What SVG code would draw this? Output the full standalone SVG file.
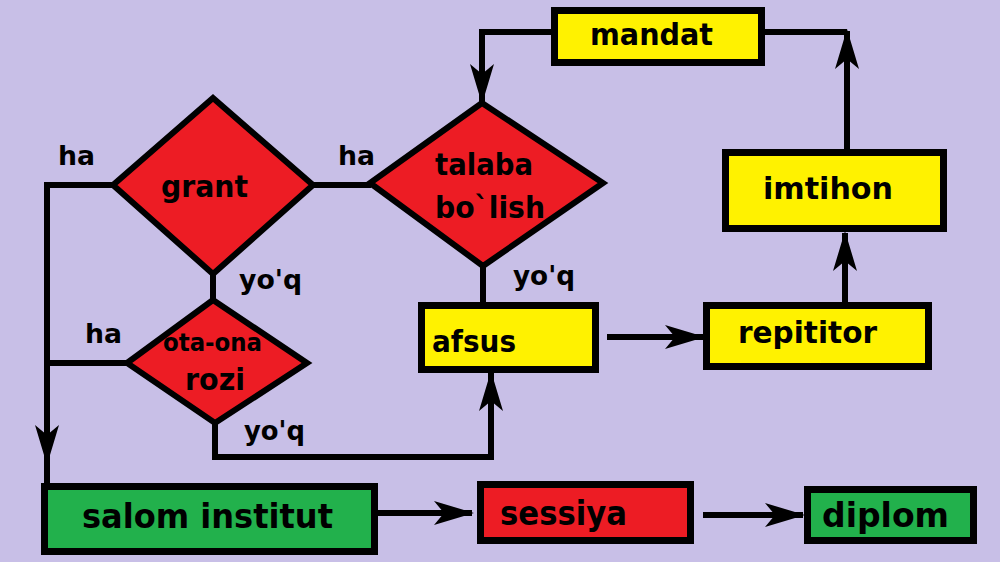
<svg xmlns="http://www.w3.org/2000/svg" width="1000" height="562" viewBox="0 0 1000 562">
<style>
.bg{fill:#c8bfe7}
.box{stroke:#000;stroke-width:7}
.dia{fill:#ed1c24;stroke:#000;stroke-width:6;stroke-linejoin:miter}
.yel{fill:#fff200}
.grn{fill:#22b14c}
.red{fill:#ed1c24}
.con{fill:none;stroke:#000;stroke-width:6;stroke-linejoin:miter}
text{font-family:"DejaVu Sans","Verdana",sans-serif;font-weight:bold;fill:#000}
.lbl{font-size:26px}
.n{font-size:30px}
</style>
<defs>
<marker id="ah" markerUnits="userSpaceOnUse" viewBox="0 0 40 26" markerWidth="40" markerHeight="26" refX="38" refY="13" orient="auto">
<path d="M0,1 L40,13 L0,25 L10,13 Z" fill="#000"/>
</marker>
</defs>
<rect class="bg" x="0" y="0" width="1000" height="562"/>

<g id="connectors">
<path class="con" d="M113,185 H47 V463" marker-end="url(#ah)"/>
<path class="con" d="M47,455 V484"/>
<path class="con" d="M127,363 H47"/>
<path class="con" d="M213,274 V302"/>
<path class="con" d="M313,185 H371"/>
<path class="con" d="M483,266 V303"/>
<path class="con" d="M215,422 V457 H491 V373" marker-end="url(#ah)"/>
<path class="con" d="M607,337 H703" marker-end="url(#ah)"/>
<path class="con" d="M845,303 V233" marker-end="url(#ah)"/>
<path class="con" d="M847,150 V31" marker-end="url(#ah)"/>
<path class="con" d="M765,32 H847"/>
<path class="con" d="M551,32 H482 V102" marker-end="url(#ah)"/>
<path class="con" d="M378,513 H472" marker-end="url(#ah)"/>
<path class="con" d="M703,515 H803" marker-end="url(#ah)"/>
</g>

<g id="labels">
<text class="lbl" x="58" y="165" textLength="37" lengthAdjust="spacingAndGlyphs">ha</text>
<text class="lbl" x="338" y="165" textLength="37" lengthAdjust="spacingAndGlyphs">ha</text>
<text class="lbl" x="85" y="343" textLength="37" lengthAdjust="spacingAndGlyphs">ha</text>
<text class="lbl" x="239" y="289" textLength="63" lengthAdjust="spacingAndGlyphs">yo'q</text>
<text class="lbl" x="244" y="440" textLength="61" lengthAdjust="spacingAndGlyphs">yo'q</text>
<text class="lbl" x="513" y="285" textLength="62" lengthAdjust="spacingAndGlyphs">yo'q</text>
</g>

<g id="grant">
<polygon class="dia" points="213,98 313,185 213,274 113,185"/>
<text class="n" x="161" y="197" textLength="87" lengthAdjust="spacingAndGlyphs">grant</text>
</g>

<g id="ota-ona-rozi">
<polygon class="dia" points="213,300 307,363 215,423 127,363"/>
<text x="163" y="351" font-size="24" font-weight="normal" textLength="99" lengthAdjust="spacingAndGlyphs">ota-ona</text>
<text class="n" x="185" y="390" textLength="60" lengthAdjust="spacingAndGlyphs">rozi</text>
</g>

<g id="talaba">
<polygon class="dia" points="482,103 603,183 483,266 370,183"/>
<text class="n" x="435" y="175" textLength="98" lengthAdjust="spacingAndGlyphs">talaba</text>
<text class="n" x="435" y="218" textLength="110" lengthAdjust="spacingAndGlyphs">bo`lish</text>
</g>

<g id="mandat">
<rect class="box yel" x="554.5" y="10.5" width="207" height="52"/>
<text class="n" x="590" y="45" textLength="123" lengthAdjust="spacingAndGlyphs">mandat</text>
</g>

<g id="imtihon">
<rect class="box yel" x="725.5" y="152.5" width="218" height="76"/>
<text class="n" x="763" y="199" font-size="31" textLength="130" lengthAdjust="spacingAndGlyphs">imtihon</text>
</g>

<g id="afsus">
<rect class="box yel" x="421.5" y="305.5" width="174" height="64"/>
<text class="n" x="432" y="352" textLength="84" lengthAdjust="spacingAndGlyphs">afsus</text>
</g>

<g id="repititor">
<rect class="box yel" x="706.5" y="305.5" width="222" height="61"/>
<text class="n" x="738" y="343" font-size="31" textLength="139" lengthAdjust="spacingAndGlyphs">repititor</text>
</g>

<g id="salom-institut">
<rect class="box grn" x="44.5" y="486.5" width="330" height="65"/>
<text x="82" y="528" font-size="34" textLength="251" lengthAdjust="spacingAndGlyphs">salom institut</text>
</g>

<g id="sessiya">
<rect class="box red" x="480.5" y="484.5" width="210" height="56"/>
<text x="500" y="525" font-size="33" textLength="127" lengthAdjust="spacingAndGlyphs">sessiya</text>
</g>

<g id="diplom">
<rect class="box grn" x="807.5" y="489.5" width="166" height="51"/>
<text x="822" y="527" font-size="33" textLength="127" lengthAdjust="spacingAndGlyphs">diplom</text>
</g>
</svg>
